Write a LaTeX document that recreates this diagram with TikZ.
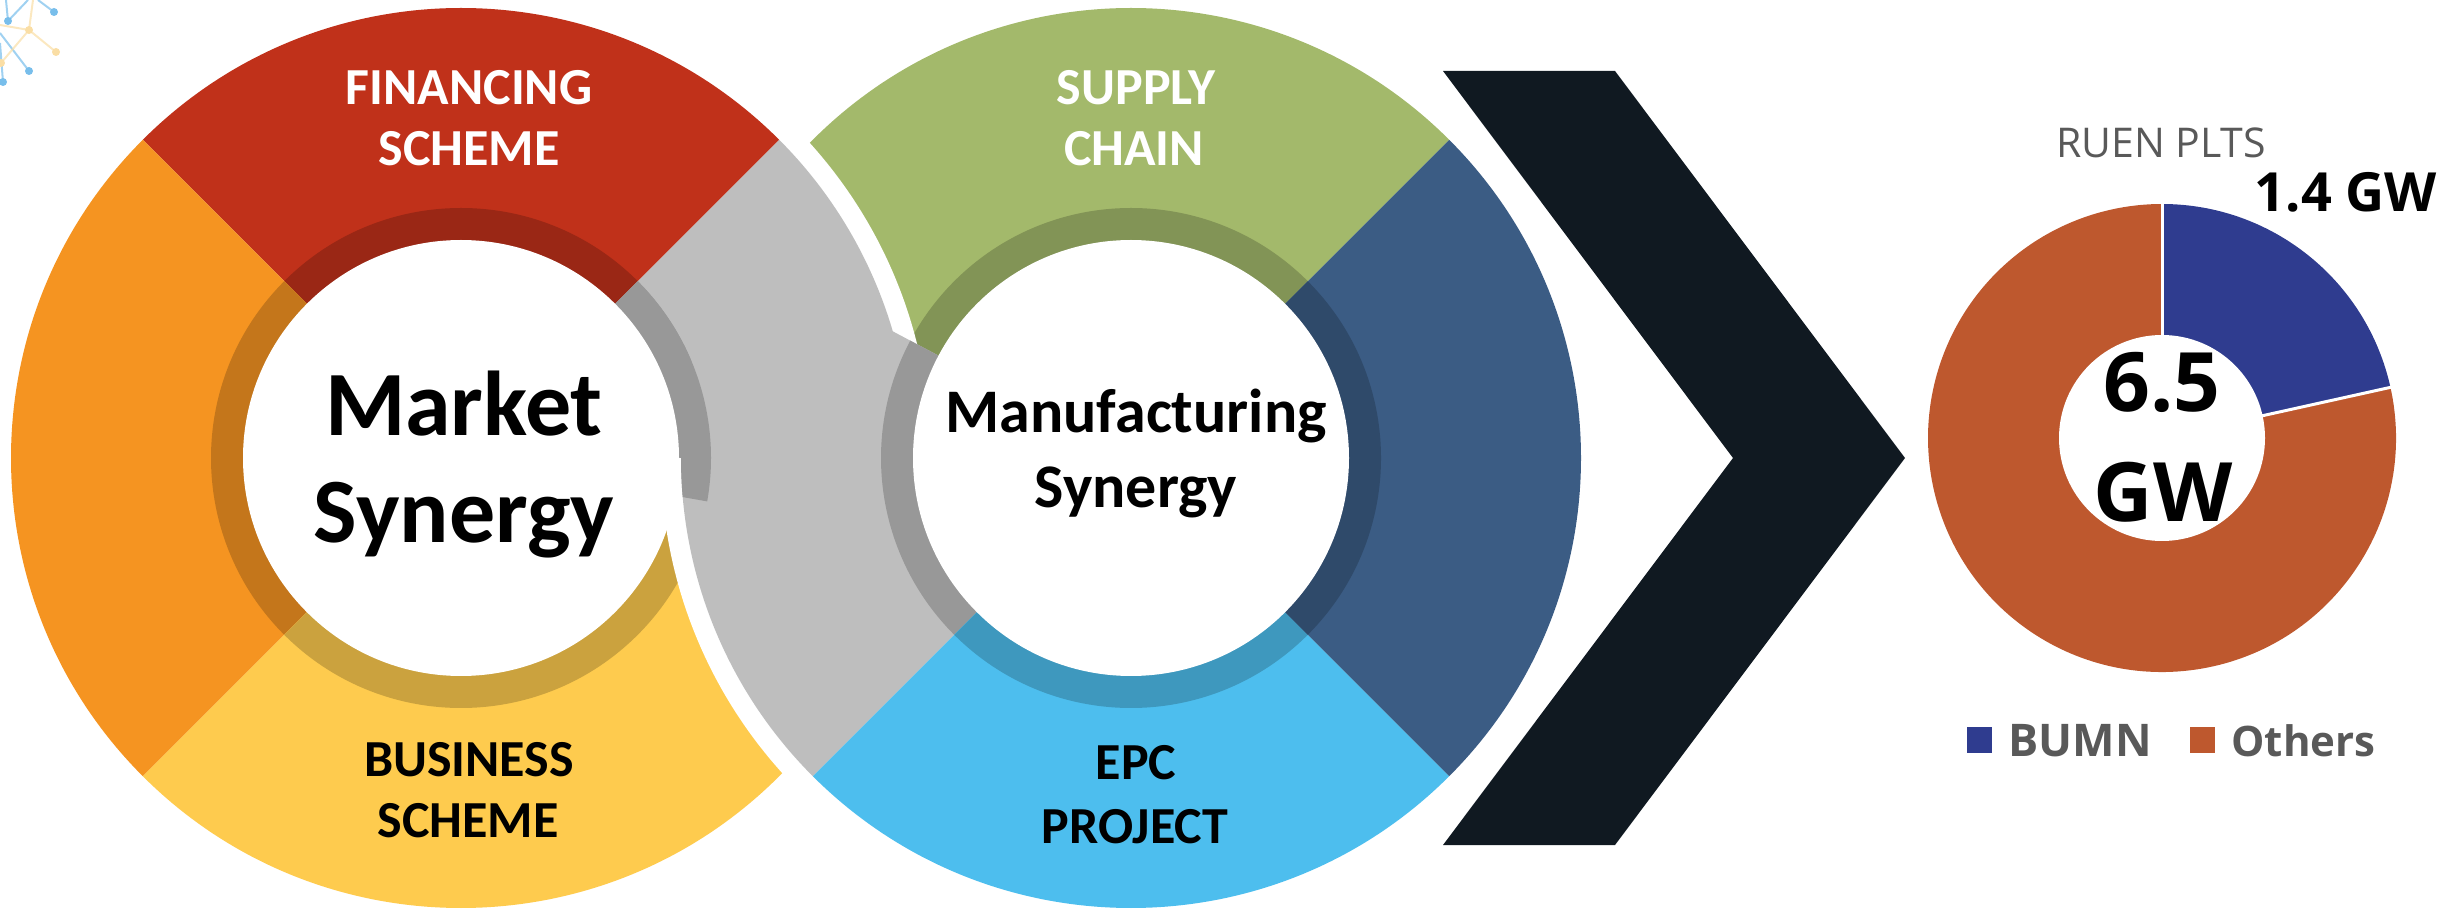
\documentclass[tikz,border=0pt]{standalone}
\usepackage{fontspec}
\setmainfont{Carlito}
\newfontfamily\osans{Open Sans}
\definecolor{cRed}{RGB}{192,49,26}
\definecolor{cOrange}{RGB}{245,148,33}
\definecolor{cYellow}{RGB}{254,203,78}
\definecolor{cGray}{RGB}{190,190,190}
\definecolor{cGreen}{RGB}{163,185,107}
\definecolor{cNavy}{RGB}{59,92,132}
\definecolor{cSky}{RGB}{77,190,238}
\definecolor{cChev}{RGB}{16,25,33}
\definecolor{cBumn}{RGB}{47,60,143}
\definecolor{cOth}{RGB}{190,88,46}
\definecolor{cTxt}{RGB}{89,89,89}
\definecolor{decB}{RGB}{120,190,235}
\definecolor{decY}{RGB}{250,222,165}
\newcommand\ringpie[5]{\fill[#5] (#1) -- ++(#2:#4) arc[start angle=#2, end angle=#3, radius=#4] -- cycle;}
\newcommand\ringseg[4]{\ringpie{#1}{#2}{#3}{450}{#4}\ringpie{#1}{#2}{#3}{250}{#4!80!black}}
\begin{document}
\begin{tikzpicture}[x=0.5pt,y=0.5pt,
  seglab/.style={font=\bfseries\fontsize{26}{30}\selectfont, anchor=base, inner sep=0pt},
  biglab/.style={font=\bfseries\fontsize{46}{50}\selectfont, anchor=base, inner sep=0pt},
  midlab/.style={font=\bfseries\fontsize{31}{34}\selectfont, anchor=base, inner sep=0pt},
  chartlab/.style={font=\osans\bfseries\fontsize{27}{30}\selectfont, anchor=base, inner sep=0pt},
  bignum/.style={font=\osans\bfseries\fontsize{41}{44}\selectfont, anchor=base, inner sep=0pt},
  leglab/.style={font=\osans\bfseries\fontsize{22.5}{26}\selectfont, text=cTxt, anchor=base west, inner sep=0pt},
  decline/.style={line width=1pt, opacity=0.7}]
\useasboundingbox (0,0) rectangle (2458,911);
\coordinate (L) at (461,453);
\coordinate (R) at (1131,453);
\coordinate (D) at (2162,473);
% right ring, part lying under the left ring
\ringseg{R}{45}{180}{cGreen}
\fill[white] (L) circle[radius=470];
% left ring
\ringseg{L}{45}{135}{cRed}
\ringseg{L}{135}{225}{cOrange}
\ringseg{L}{225}{360}{cYellow}
\ringseg{L}{0}{45}{cGray}
% right ring lying over the left ring at the bottom
\begin{scope}
  \clip (0,0) rectangle (2458,453);
  \fill[white] (R) circle[radius=470];
\end{scope}
\ringpie{R}{152}{225}{450}{cGray}
\ringpie{R}{152}{225}{250}{cGray!80!black}
\ringseg{R}{225}{315}{cSky}
\ringseg{R}{315}{405}{cNavy}
% inner shade of the grey link on the left hole
\ringpie{L}{0}{45}{250}{cGray!80!black}
\begin{scope}
  \clip (R) circle[radius=450];
  \ringpie{L}{-10}{0}{250}{cGray!80!black}
\end{scope}
% holes
\fill[white] (L) circle[radius=218];
\fill[white] (R) circle[radius=218];
% labels
\node[seglab, white] (fin1) at (469,806) {FINANCING};
\node[seglab, white] (fin2) at (469,745) {SCHEME};
\node[seglab] (bus1) at (469,135) {BUSINESS};
\node[seglab] (bus2) at (468,74) {SCHEME};
\node[seglab, white] (sup1) at (1136,806) {SUPPLY};
\node[seglab, white] (sup2) at (1134,745) {CHAIN};
\node[seglab] (epc1) at (1136,132) {EPC};
\node[seglab] (epc2) at (1135,68) {PROJECT};
\node[biglab] (mk1) at (464,475) {Market};
\node[biglab] (mk2) at (464,368) {Synergy};
\node[midlab] (mf1) at (1136,478) {Manufacturing};
\node[midlab] (mf2) at (1136,403) {Synergy};
% chevron
\fill[cChev] (1443,840) -- (1615,840) -- (1905,453) -- (1615,66) -- (1443,66) -- (1733,453) -- cycle;
% donut chart
\ringpie{D}{12.5}{-270}{234}{cOth}
\ringpie{D}{90}{12.5}{234}{cBumn}
\draw[white, line width=1.5pt] (D) -- ++(90:236);
\draw[white, line width=1.5pt] (D) -- ++(12.5:236);
\fill[white] (D) circle[radius=103];
\node[font=\osans\fontsize{20.5}{24}\selectfont, text=cTxt, anchor=base, inner sep=0pt] (ttl) at (2161,753) {RUEN PLTS};
\node[chartlab] (v14) at (2346,699) {1.4 GW};
\node[bignum] (v65) at (2162,499) {6.5};
\node[bignum] (vgw) at (2163,389) {GW};
\fill[cBumn] (1967,158) rectangle (1992,184);
\node[leglab] (lb) at (2008,155) {BUMN};
\fill[cOth] (2190,158) rectangle (2215,184);
\node[leglab, font=\osans\bfseries\fontsize{21}{26}\selectfont] (lo) at (2231,155) {Others};
% corner decoration
\draw[decline, decB] (54,899) -- (38,911) (8,890) -- (28,911) (8,890) -- (6,911) (0,878) -- (29,840) (3,829) -- (0,868);
\draw[decline, decY] (29,881) -- (33,911) (29,881) -- (56,859) (29,881) -- (0,886) (29,881) -- (1,848);
\fill[decB] (54,899) circle[radius=4] (8,890) circle[radius=4] (29,840) circle[radius=4] (3,829) circle[radius=4];
\fill[decY] (29,881) circle[radius=4] (56,859) circle[radius=4] (1,848) circle[radius=4];
\end{tikzpicture}
\end{document}
